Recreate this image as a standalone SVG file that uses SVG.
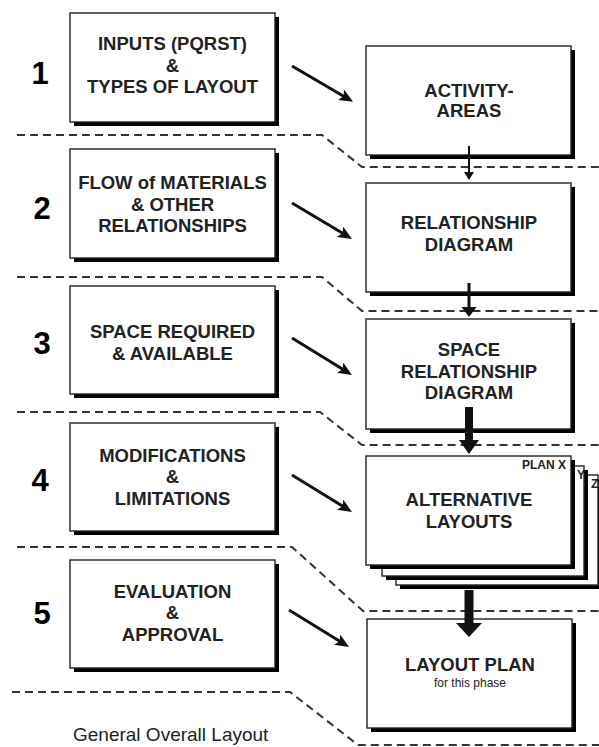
<svg xmlns="http://www.w3.org/2000/svg" width="599" height="747" viewBox="0 0 599 747">
  <style>
    .shadow { fill: #000; }
    .box { fill: #fff; stroke: #222; stroke-width: 1.4; }
    .lbl { font-family: "Liberation Sans", Arial, sans-serif; font-weight: bold; font-size: 18.5px; fill: #222; text-anchor: middle; }
    .num { font-family: "Liberation Sans", Arial, sans-serif; font-weight: bold; font-size: 31px; fill: #000; text-anchor: middle; }
    .tag { font-family: "Liberation Sans", Arial, sans-serif; font-weight: bold; font-size: 12px; fill: #222; }
    .small { font-family: "Liberation Sans", Arial, sans-serif; font-size: 12px; fill: #222; text-anchor: middle; }
    .cap { font-family: "Liberation Sans", Arial, sans-serif; font-size: 19px; fill: #222; }
    .phase { fill: none; stroke: #333; stroke-width: 2; stroke-dasharray: 8 5; }
    .flow { fill: none; stroke: #111; stroke-width: 3; marker-end: url(#head); }
    .stem { fill: #111; }
  </style>
  <defs>
    <marker id="head" markerUnits="userSpaceOnUse" markerWidth="15" markerHeight="12" refX="6" refY="6" orient="auto">
      <path d="M0,0 L14,6 L0,12 L3,6 z" fill="#111"/>
    </marker>
  </defs>

  <!-- phase separators -->
  <g id="separators">
    <path class="phase" d="M17,135 H322 L362,167 H599"/>
    <path class="phase" d="M17,277 H322 L362,311 H599"/>
    <path class="phase" d="M17,412 H320 L362,445 H599"/>
    <path class="phase" d="M17,547 H292 L363,611 H599"/>
    <path class="phase" d="M12,692 H290 L358,745 H599"/>
  </g>

  <!-- phase numbers -->
  <g id="numbers">
    <text class="num" x="40" y="84">1</text>
    <text class="num" x="42" y="219">2</text>
    <text class="num" x="42" y="354">3</text>
    <text class="num" x="40" y="491">4</text>
    <text class="num" x="42" y="624">5</text>
  </g>

  <!-- left column: inputs -->
  <g id="inputs">
    <rect class="shadow" x="74" y="17" width="205" height="109"/>
    <rect class="box" x="70" y="13" width="205" height="109"/>
    <text class="lbl" x="172.5" y="50">INPUTS (PQRST)</text>
    <text class="lbl" x="172.5" y="72">&amp;</text>
    <text class="lbl" x="172.5" y="93">TYPES OF LAYOUT</text>
  </g>
  <g id="flow-materials">
    <rect class="shadow" x="74" y="153" width="205" height="109"/>
    <rect class="box" x="70" y="149" width="205" height="109"/>
    <text class="lbl" x="172.5" y="189">FLOW of MATERIALS</text>
    <text class="lbl" x="172.5" y="211">&amp; OTHER</text>
    <text class="lbl" x="172.5" y="232">RELATIONSHIPS</text>
  </g>
  <g id="space-required">
    <rect class="shadow" x="74" y="290" width="205" height="108"/>
    <rect class="box" x="70" y="286" width="205" height="108"/>
    <text class="lbl" x="172.5" y="338">SPACE REQUIRED</text>
    <text class="lbl" x="172.5" y="360">&amp; AVAILABLE</text>
  </g>
  <g id="modifications">
    <rect class="shadow" x="74" y="427" width="205" height="108"/>
    <rect class="box" x="70" y="423" width="205" height="108"/>
    <text class="lbl" x="172.5" y="462">MODIFICATIONS</text>
    <text class="lbl" x="172.5" y="483">&amp;</text>
    <text class="lbl" x="172.5" y="505">LIMITATIONS</text>
  </g>
  <g id="evaluation">
    <rect class="shadow" x="74" y="564" width="205" height="108"/>
    <rect class="box" x="70" y="560" width="205" height="108"/>
    <text class="lbl" x="172.5" y="598">EVALUATION</text>
    <text class="lbl" x="172.5" y="619">&amp;</text>
    <text class="lbl" x="172.5" y="641">APPROVAL</text>
  </g>

  <!-- right column: outputs -->
  <g id="activity-areas">
    <rect class="shadow" x="370" y="50" width="205" height="109"/>
    <rect class="box" x="366" y="46" width="205" height="109"/>
    <text class="lbl" x="469" y="97">ACTIVITY-</text>
    <text class="lbl" x="469" y="117">AREAS</text>
  </g>
  <g id="relationship-diagram">
    <rect class="shadow" x="370" y="187" width="205" height="109"/>
    <rect class="box" x="366" y="183" width="205" height="109"/>
    <text class="lbl" x="469" y="229">RELATIONSHIP</text>
    <text class="lbl" x="469" y="251">DIAGRAM</text>
  </g>
  <g id="space-relationship-diagram">
    <rect class="shadow" x="370" y="323" width="205" height="110"/>
    <rect class="box" x="366" y="319" width="205" height="110"/>
    <text class="lbl" x="469" y="356">SPACE</text>
    <text class="lbl" x="469" y="378">RELATIONSHIP</text>
    <text class="lbl" x="469" y="399">DIAGRAM</text>
  </g>
  <g id="alternative-layouts">
    <rect class="shadow" x="400" y="479" width="202" height="110"/>
    <rect class="box" x="396" y="475" width="202" height="110"/>
    <text class="tag" x="591" y="488">Z</text>
    <rect class="shadow" x="386" y="470" width="202" height="110"/>
    <rect class="box" x="382" y="466" width="202" height="110"/>
    <text class="tag" x="577" y="479">Y</text>
    <rect class="shadow" x="370" y="460" width="205" height="109"/>
    <rect class="box" x="366" y="456" width="205" height="109"/>
    <text class="tag" x="522" y="469">PLAN X</text>
    <text class="lbl" x="469" y="506">ALTERNATIVE</text>
    <text class="lbl" x="469" y="528">LAYOUTS</text>
  </g>
  <g id="layout-plan">
    <rect class="shadow" x="371" y="623" width="205" height="109"/>
    <rect class="box" x="367" y="619" width="205" height="109"/>
    <text class="lbl" x="470" y="671">LAYOUT PLAN</text>
    <text class="small" x="470" y="687">for this phase</text>
  </g>

  <!-- connectors -->
  <g id="connectors">
    <path class="flow" d="M292,66 L346.2,97.8"/>
    <path class="flow" d="M292,203 L345.2,234.8"/>
    <path class="flow" d="M292,338 L345.2,370.8"/>
    <path class="flow" d="M292,475 L345.2,507.8"/>
    <path class="flow" d="M289,610 L342.2,642.8"/>

    <rect class="stem" x="468" y="146" width="2" height="27"/>
    <polygon class="stem" points="464,172 474,172 469,180"/>
    <rect class="stem" x="467.5" y="283" width="3" height="25"/>
    <polygon class="stem" points="461.5,307 476.5,307 469,317"/>
    <rect class="stem" x="465" y="407" width="8" height="34"/>
    <polygon class="stem" points="459,440 479,440 469,454"/>
    <rect class="stem" x="464.5" y="590" width="9" height="34"/>
    <polygon class="stem" points="456,623 482,623 469,637"/>
  </g>

  <text class="cap" x="73" y="741">General Overall Layout</text>
</svg>
